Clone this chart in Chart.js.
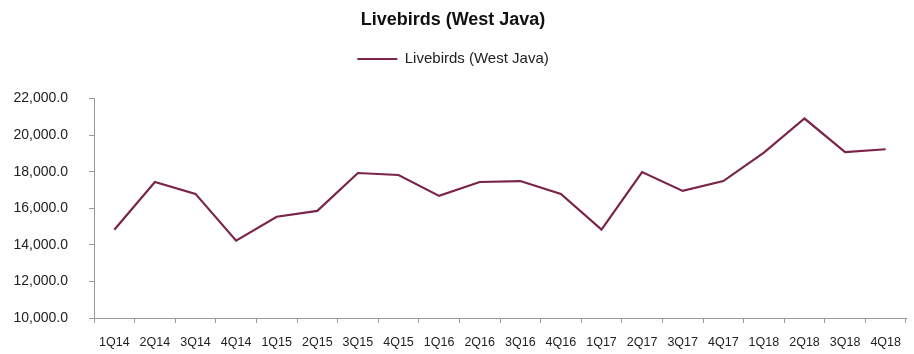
<!DOCTYPE html>
<html>
<head>
<meta charset="utf-8">
<script src="https://cdn.jsdelivr.net/npm/chart.js@4/dist/chart.umd.min.js"></script>
<style>
  html, body { margin: 0; padding: 0; background: #fff; }
  #wrap { width: 914px; height: 354px; }
</style>
</head>
<body>
<div id="wrap"><canvas id="livebirds"></canvas></div>
<script>
const quarters = ['1Q14', '2Q14', '3Q14', '4Q14', '1Q15', '2Q15', '3Q15', '4Q15', '1Q16', '2Q16',
                  '3Q16', '4Q16', '1Q17', '2Q17', '3Q17', '4Q17', '1Q18', '2Q18', '3Q18', '4Q18'];
const livebirds = [14830, 17440, 16790, 14230, 15540, 15860, 17930, 17820, 16680, 17440,
                   17490, 16790, 14830, 17980, 16950, 17490, 19050, 20910, 19070, 19230];
const yTicks = [10000, 12000, 14000, 16000, 18000, 20000, 22000];

const lineColor = '#7b2449';
const axisColor = '#9a9a9a';

// push the plot down under the legend, like the original
const legendGap = {
    id: 'legendGap',
    beforeInit(chart) {
        const fit = chart.legend.fit;
        chart.legend.fit = function () {
            fit.bind(chart.legend)();
            this.height += 22;
        };
    }
};

const ctx = document.getElementById('livebirds').getContext('2d');
const chart = new Chart(ctx, {
    type: 'line',
    data: {
        labels: quarters,
        datasets: [{
            label: 'Livebirds (West Java)',
            data: livebirds,
            borderColor: lineColor,
            backgroundColor: lineColor,
            borderWidth: 2.2,
            pointRadius: 0,
            tension: 0
        }]
    },
    options: {
        responsive: true,
        maintainAspectRatio: false,
        animation: false,
        layout: { padding: { top: 0, right: 8, bottom: 0, left: 0 } },
        plugins: {
            title: {
                display: true,
                text: 'Livebirds (West Java)',
                color: '#111',
                font: { family: 'Liberation Sans', size: 18, weight: 'bold' },
                padding: { top: 9, bottom: 0 }
            },
            legend: {
                display: true,
                labels: {
                    boxWidth: 40,
                    boxHeight: 2,
                    padding: 21,
                    color: '#222',
                    font: { family: 'Liberation Sans', size: 15 },
                    generateLabels(chart) {
                        return Chart.defaults.plugins.legend.labels.generateLabels(chart)
                            .map(item => Object.assign(item, { lineWidth: 0 }));
                    }
                }
            },
            tooltip: { enabled: false }
        },
        scales: {
            x: {
                offset: true,
                afterFit(scale) { scale.height = 36; },
                grid: { display: true, drawOnChartArea: false, offset: true, tickLength: 5, color: axisColor },
                border: { display: true, color: axisColor, width: 1 },
                ticks: {
                    autoSkip: false,
                    maxRotation: 0,
                    padding: 12,
                    color: '#222',
                    font: { family: 'Liberation Sans', size: 12.5 }
                }
            },
            y: {
                min: 10000,
                max: 22000,
                afterFit(scale) { scale.width = 94; },
                afterBuildTicks(scale) { scale.ticks = yTicks.map(v => ({ value: v })); },
                grid: { display: true, drawOnChartArea: false, tickLength: 5, color: axisColor },
                border: { display: true, color: axisColor, width: 1 },
                ticks: {
                    padding: 21,
                    color: '#222',
                    font: { family: 'Liberation Sans', size: 14 },
                    callback: function (value) {
                        return value.toLocaleString('en-US', { minimumFractionDigits: 1, maximumFractionDigits: 1 });
                    }
                }
            }
        }
    },
    plugins: [legendGap]
});
</script>
</body>
</html>
